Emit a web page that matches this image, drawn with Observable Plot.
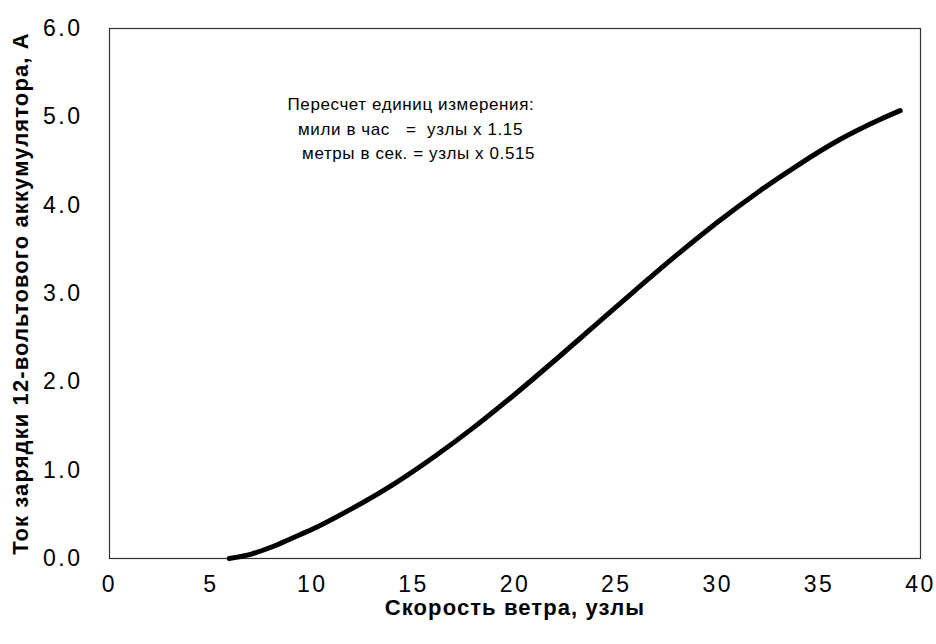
<!DOCTYPE html>
<html>
<head>
<meta charset="utf-8">
<script src="https://cdn.jsdelivr.net/npm/d3@7"></script>
<script src="https://cdn.jsdelivr.net/npm/@observablehq/plot@0.6"></script>
<style>
  html, body { margin: 0; padding: 0; background: #fff; }
  #chart svg text { fill: #000; }
</style>
</head>
<body>
<div id="chart"></div>
<script>
// Wind speed (knots) vs charging current of a 12 V battery (A)
const windKnots = [5.9, 7, 8, 9, 10, 12, 14, 16, 18, 20, 22, 24, 26, 28, 30, 32, 34, 36, 38, 39];
const currentA  = [0, 0.05, 0.13, 0.23, 0.33, 0.57, 0.84, 1.15, 1.49, 1.86, 2.25, 2.65, 3.05, 3.44, 3.81, 4.15, 4.46, 4.74, 4.97, 5.07];

const xTicks = [0, 5, 10, 15, 20, 25, 30, 35, 40];
const yTicks = [0, 1, 2, 3, 4, 5, 6];

const xTitle = "Скорость ветра, узлы";
const yTitle = "Ток зарядки 12-вольтового аккумулятора, А";

const noteLines = [
  "Пересчет единиц измерения:",
  "мили в час\u00a0\u00a0 =\u00a0 узлы х 1.15",
  "метры в сек. = узлы х 0.515"
];
const noteX = [8.78, 9.3, 9.5];
const noteY = [5.14, 4.86, 4.59];

const curveData = windKnots.map((k, i) => ({k, a: currentA[i]}));
const notes = noteLines.map((t, i) => ({t, x: noteX[i], y: noteY[i]}));

const chart = Plot.plot({
  width: 936,
  height: 644,
  marginLeft: 109,
  marginRight: 16,
  marginTop: 28,
  marginBottom: 86,
  style: {
    fontFamily: "'Liberation Sans', Arial, Helvetica, sans-serif",
    fontSize: "23px",
    background: "#fff",
    color: "#000",
    overflow: "visible"
  },
  x: {domain: [0, 40], ticks: xTicks, tickSize: 0, tickPadding: 17, label: null},
  y: {domain: [0, 6], ticks: yTicks, tickSize: 0, tickPadding: 27, tickFormat: d => d.toFixed(1), label: null},
  marks: [
    Plot.frame({stroke: "#333", strokeWidth: 1.2}),
    Plot.line(curveData, {x: "k", y: "a", curve: "monotone-x", stroke: "#000", strokeWidth: 5, strokeLinecap: "round"}),
    Plot.text(notes, {x: "x", y: "y", text: "t", textAnchor: "start", fontSize: 17, fill: "#000"}),
    Plot.text([xTitle], {frameAnchor: "bottom", dy: 56, textAnchor: "middle", fontWeight: "bold", fontSize: 22, fill: "#000"}),
    Plot.text([yTitle], {frameAnchor: "left", dx: -89, textAnchor: "middle", rotate: -90, fontWeight: "bold", fontSize: 22, fill: "#000"})
  ]
});

document.getElementById("chart").appendChild(chart);

// widen glyph spacing to match the scanned original
d3.select(chart).selectAll("g[aria-label='x-axis tick label'] text, g[aria-label='y-axis tick label'] text")
  .style("letter-spacing", "2.5px");
d3.select(chart).selectAll("g[aria-label='text'] text").style("letter-spacing", "0.6px");
d3.select(chart).selectAll("g[aria-label='text'] text").filter(function() {
  const t = this.textContent; return t === xTitle || t === yTitle;
}).style("letter-spacing", "1.1px");
</script>
</body>
</html>
